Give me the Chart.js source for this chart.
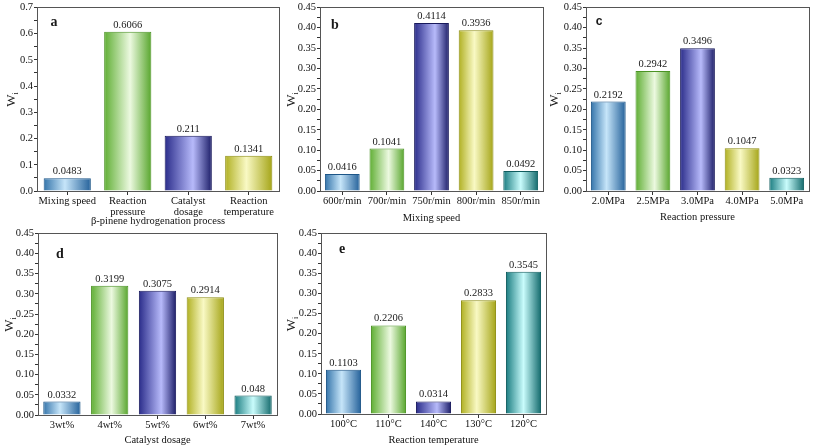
<!DOCTYPE html>
<html>
<head>
<meta charset="utf-8">
<script src="https://cdn.jsdelivr.net/npm/chart.js@4.4.1/dist/chart.umd.min.js"></script>
<style>
    body { margin: 0; background: #fff; width: 813px; height: 448px; position: relative; overflow: hidden; }
    canvas { position: absolute; }
</style>
</head>
<body>
<canvas id="panelA" width="285" height="236" style="left:0;top:0"></canvas>
<canvas id="panelB" width="262" height="236" style="left:285px;top:0"></canvas>
<canvas id="panelC" width="266" height="236" style="left:547px;top:0"></canvas>
<canvas id="panelD" width="285" height="222" style="left:0;top:226px"></canvas>
<canvas id="panelE" width="262" height="222" style="left:285px;top:226px"></canvas>
<script>
// data
const aLabels = ['Mixing speed', ['Reaction', 'pressure'], ['Catalyst', 'dosage'], ['Reaction', 'temperature']];
const aValues = [0.0483, 0.6066, 0.211, 0.1341];
const bLabels = ['600r/min', '700r/min', '750r/min', '800r/min', '850r/min'];
const bValues = [0.0416, 0.1041, 0.4114, 0.3936, 0.0492];
const cLabels = ['2.0MPa', '2.5MPa', '3.0MPa', '4.0MPa', '5.0MPa'];
const cValues = [0.2192, 0.2942, 0.3496, 0.1047, 0.0323];
const dLabels = ['3wt%', '4wt%', '5wt%', '6wt%', '7wt%'];
const dValues = [0.0332, 0.3199, 0.3075, 0.2914, 0.048];
const eLabels = ['100°C', '110°C', '140°C', '130°C', '120°C'];
const eValues = [0.1103, 0.2206, 0.0314, 0.2833, 0.3545];

// y axis ticks: [max, major step, decimals]
const aTicks = [0.7, 0.1, 1];
const bcdeTicks = [0.45, 0.05, 2];

const SERIF = "'Liberation Serif', 'Times New Roman', serif";
const BAR_PCT = 0.78;

// left edge, light, right edge, light stop, outline
const palette = {
    blue:   ['#3474aa', '#c6e5f9', '#24619a', 0.45, '#1d5688'],
    green:  ['#5fae33', '#ecf9e0', '#58a62d', 0.55, '#4b9324'],
    purple: ['#2a2c8a', '#b7bafa', '#1c1d68', 0.6,  '#18195c'],
    yellow: ['#b0b022', '#f9f9c4', '#a5a518', 0.45, '#8e8e12'],
    teal:   ['#1a7c80', '#c9fcfc', '#136a6c', 0.5,  '#0f5c5e']
};
const fourColors = ['blue', 'green', 'purple', 'yellow'];
const fiveColors = ['blue', 'green', 'purple', 'yellow', 'teal'];

function barFill(ctx) {
    const chart = ctx.chart;
    const area = chart.chartArea;
    if (ctx.type !== 'data') return '#888';
    const cols = palette[chart.options.plugins.panel.colors[ctx.dataIndex]];
    if (!area) return cols[1];
    const cx = chart.scales.x.getPixelForValue(ctx.dataIndex);
    const half = area.width / chart.data.labels.length * BAR_PCT / 2;
    const g = chart.ctx.createLinearGradient(cx - half, 0, cx + half, 0);
    g.addColorStop(0, cols[0]);
    g.addColorStop(cols[3], cols[1]);
    g.addColorStop(1, cols[2]);
    return g;
}

// box, value labels, panel letter and y title
const panelPlugin = {
    id: 'panel',
    afterDatasetsDraw(chart, args, opts) {
        const c = chart.ctx;
        const area = chart.chartArea;
        c.save();
        c.strokeStyle = '#555';
        c.lineWidth = 1;
        c.strokeRect(Math.round(area.left) + 0.5, Math.round(area.top) + 0.5,
            Math.round(area.width), Math.round(area.height));

        c.fillStyle = '#1a1a1a';
        c.font = '10.5px ' + SERIF;
        c.textAlign = 'center';
        c.textBaseline = 'bottom';
        const meta = chart.getDatasetMeta(0);
        meta.data.forEach((bar, i) => {
            c.fillText(String(chart.data.datasets[0].data[i]), bar.x, bar.y - 1.5);
        });

        c.font = opts.letterFont;
        c.textBaseline = 'middle';
        c.fillText(opts.letter, area.left + opts.lx, area.top + opts.ly);

        // y title W with subscript i
        c.translate(opts.tx, (area.top + area.bottom) / 2);
        c.rotate(-Math.PI / 2);
        c.textAlign = 'left';
        c.font = '13px ' + SERIF;
        const w = c.measureText('W').width;
        c.fillText('W', -(w + 3) / 2, 0);
        c.font = '8px ' + SERIF;
        c.fillText('i', (w - 3) / 2, 4);
        c.restore();
    }
};

function makePanel(id, labels, values, colors, ticks, cfg) {
    const [yMax, step, dec] = ticks;
    const font = { family: SERIF, size: 10.5, lineHeight: 1.05 };
    return new Chart(document.getElementById(id), {
        type: 'bar',
        data: {
            labels: labels,
            datasets: [{
                data: values,
                backgroundColor: barFill,
                borderColor: colors.map(c => palette[c][4]),
                borderWidth: 1,
                barPercentage: BAR_PCT,
                categoryPercentage: 1
            }]
        },
        options: {
            responsive: false,
            animation: false,
            layout: { padding: { top: cfg.top, right: cfg.right, left: 0, bottom: 0 } },
            plugins: {
                legend: { display: false },
                tooltip: { enabled: false },
                panel: {
                    colors: colors, letter: cfg.letter, letterFont: cfg.letterFont,
                    lx: cfg.lx, ly: cfg.ly, tx: cfg.tx
                }
            },
            scales: {
                x: {
                    grid: { drawOnChartArea: false, offset: false, tickLength: 4, color: '#333' },
                    border: { color: '#333' },
                    ticks: { font: font, color: '#111', padding: 1, maxRotation: 0, autoSkip: false },
                    title: {
                        display: true, text: cfg.xTitle, color: '#111',
                        font: { family: SERIF, size: 10.5, lineHeight: 1.2 },
                        padding: { top: 0, bottom: cfg.titlePad }
                    },
                    afterFit: s => { s.height = cfg.xHeight; }
                },
                y: {
                    min: 0,
                    max: yMax,
                    grid: { drawOnChartArea: false, tickLength: 3, color: '#333' },
                    border: { color: '#333' },
                    ticks: {
                        stepSize: step / 2,
                        autoSkip: false,
                        font: { family: SERIF, size: 10.5 },
                        color: '#111',
                        padding: 1,
                        callback: (v, i) => i % 2 ? '' : Number(v).toFixed(dec)
                    },
                    afterFit: s => { s.width = cfg.yWidth; }
                }
            }
        },
        plugins: [panelPlugin]
    });
}

const letterSerif = 'bold 14px ' + SERIF;

makePanel('panelA', aLabels, aValues, fourColors, aTicks, {
    top: 6, right: 6, yWidth: 37, xHeight: 45, titlePad: 8,
    xTitle: 'β-pinene hydrogenation process',
    letter: 'a', letterFont: letterSerif, lx: 17, ly: 15, tx: 12
});
makePanel('panelB', bLabels, bValues, fiveColors, bcdeTicks, {
    top: 6, right: 4, yWidth: 35, xHeight: 45, titlePad: 11,
    xTitle: 'Mixing speed',
    letter: 'b', letterFont: letterSerif, lx: 15, ly: 18, tx: 7
});
makePanel('panelC', cLabels, cValues, fiveColors, bcdeTicks, {
    top: 6, right: 4, yWidth: 39, xHeight: 45, titlePad: 12,
    xTitle: 'Reaction pressure',
    letter: 'c', letterFont: "bold 12px 'Liberation Sans', Arial, sans-serif", lx: 13, ly: 14, tx: 8
});
makePanel('panelD', dLabels, dValues, fiveColors, bcdeTicks, {
    top: 5, right: 8, yWidth: 38, xHeight: 33, titlePad: 1,
    xTitle: 'Catalyst dosage',
    letter: 'd', letterFont: letterSerif, lx: 22, ly: 21, tx: 10
});
makePanel('panelE', eLabels, eValues, fiveColors, bcdeTicks, {
    top: 5, right: 1, yWidth: 36, xHeight: 34, titlePad: 1,
    xTitle: 'Reaction temperature',
    letter: 'e', letterFont: letterSerif, lx: 21, ly: 16, tx: 7
});
</script>
</body>
</html>
